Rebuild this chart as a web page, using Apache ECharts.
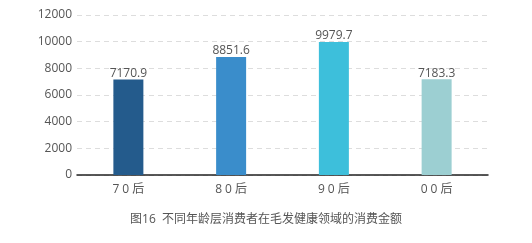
<!DOCTYPE html>
<html><head><meta charset="utf-8">
<script src="https://cdn.jsdelivr.net/npm/echarts@6/dist/echarts.min.js"></script>
<style>html,body{margin:0;padding:0;background:#fff}#c{width:532px;height:243px}</style>
</head><body><div id="c"></div>
<script>
var categories = ['70后', '80后', '90后', '00后'];
var values = [7170.9, 8851.6, 9979.7, 7183.3];
var barColors = ['#245b8c', '#3a8dcb', '#3dbfdb', '#9ccfd2'];
var yTicks = [0, 2000, 4000, 6000, 8000, 10000, 12000];
var titleText = '图16  不同年龄层消费者在毛发健康领域的消费金额';

var font = '"Open Sans", "Noto Sans CJK SC", sans-serif';
var chart = echarts.init(document.getElementById('c'), null, {renderer: 'canvas'});
chart.setOption({
  animation: false,
  title: {
    text: titleText, left: 'center', top: 209,
    textStyle: {fontSize: 12, fontWeight: 'normal', color: '#555', fontFamily: font}
  },
  grid: {left: 77, right: 44, top: 15, bottom: 68},
  xAxis: {
    type: 'category', data: categories,
    axisLine: {lineStyle: {color: '#222', width: 1.5}},
    axisTick: {show: false},
    axisLabel: {color: '#555', fontSize: 12, margin: 9, fontFamily: font,
      formatter: function (v) { return v.split('').join(' '); }}
  },
  yAxis: {
    type: 'value', min: yTicks[0], max: yTicks[yTicks.length - 1], interval: 2000,
    axisLine: {show: false}, axisTick: {show: false},
    axisLabel: {color: '#555', fontSize: 12, margin: 5, fontFamily: font,
      formatter: function (v) { return String(v); }},
    splitLine: {lineStyle: {color: '#ddd', type: [5, 4]}}
  },
  series: [{
    type: 'bar', barWidth: 30,
    data: values.map(function (v, i) { return {value: v, itemStyle: {color: barColors[i]}}; }),
    label: {show: true, position: 'top', distance: 0, color: '#555', fontSize: 12, fontFamily: font}
  }]
});
</script></body></html>
